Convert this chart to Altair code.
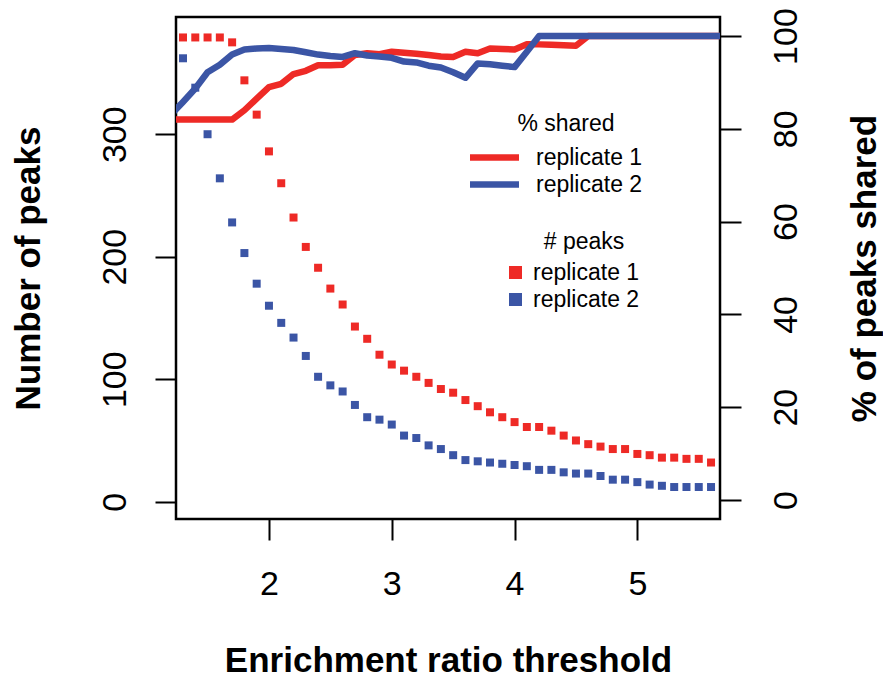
import altair as alt
import pandas as pd

# ---- data ----
thresholds = [1.3, 1.4, 1.5, 1.6, 1.7, 1.8, 1.9,
              2.0, 2.1, 2.2, 2.3, 2.4, 2.5, 2.6, 2.7, 2.8, 2.9,
              3.0, 3.1, 3.2, 3.3, 3.4, 3.5, 3.6, 3.7, 3.8, 3.9,
              4.0, 4.1, 4.2, 4.3, 4.4, 4.5, 4.6, 4.7, 4.8, 4.9,
              5.0, 5.1, 5.2, 5.3, 5.4, 5.5, 5.6]

peaks_rep1 = [379, 379, 379, 379, 375, 344, 316,
              286, 260, 232, 208, 191, 174, 161, 143, 133, 120,
              112, 107, 102, 97, 92, 89, 83, 78, 73, 69,
              65, 61, 61, 58, 54, 50, 47, 45, 43, 43,
              39, 38, 36, 36, 35, 35, 32]

peaks_rep2 = [362, 338, 300, 264, 228, 203, 178,
              160, 146, 134, 119, 102, 95, 90, 79, 69, 67,
              63, 54, 52, 46, 43, 38, 34, 33, 32, 31,
              30, 29, 26, 26, 24, 23, 23, 21, 18, 18,
              16, 14, 13, 12, 12, 12, 12]

line_x = [1.2] + thresholds + [5.7]

shared_rep1 = [82,
               82, 82, 82, 82, 82, 84, 86.5,
               89, 89.7, 91.8, 92.5, 93.7, 93.7, 93.8, 95.9, 96.3, 96.1,
               96.6, 96.4, 96.2, 95.9, 95.6, 95.5, 96.6, 96.3, 97.3, 97.2,
               97.1, 98.2, 98.2, 98.1, 98.0, 97.9, 100, 100, 100, 100,
               100, 100, 100, 100, 100, 100, 100,
               100]

shared_rep2 = [83,
               85.8, 88.7, 92.2, 93.8, 96, 97.1, 97.3,
               97.4, 97.2, 97, 96.5, 96, 95.7, 95.5, 96.3, 95.8, 95.6,
               95.3, 94.5, 94.3, 93.6, 93.2, 92.2, 91.0, 94.1, 93.9, 93.6,
               93.3, 96.6, 100, 100, 100, 100, 100, 100, 100, 100,
               100, 100, 100, 100, 100, 100, 100,
               100]

series = ["replicate 1", "replicate 2"]
legend_titles = ["% shared", "# peaks"]
x_ticks = [2, 3, 4, 5]
left_ticks = [0, 100, 200, 300]
right_ticks = [0, 20, 40, 60, 80, 100]

RED = "#EE2A26"
BLUE = "#3B55A5"
FONT = "Liberation Sans"

n = len(thresholds)
peaks_df = pd.DataFrame({
    "x": thresholds + thresholds,
    "peaks": peaks_rep1 + peaks_rep2,
    "rep": [series[0]] * n + [series[1]] * n,
})
m = len(line_x)
shared_df = pd.DataFrame({
    "x": line_x + line_x,
    "shared": shared_rep1 + shared_rep2,
    "rep": [series[0]] * m + [series[1]] * m,
})

xscale = alt.Scale(domain=[1.243, 5.673], nice=False, zero=False)
xaxis = alt.Axis(values=x_ticks, title="Enrichment ratio threshold",
                 labelBaseline="top", labelPadding=27,
                 titleX=272, titleY=152, titleBaseline="alphabetic",
                 titleAlign="center")

points = alt.Chart(peaks_df).mark_square(size=64, opacity=1, strokeWidth=0).encode(
    x=alt.X("x:Q", scale=xscale, axis=xaxis),
    y=alt.Y("peaks:Q",
            scale=alt.Scale(domain=[-14.1, 395.7], nice=False, zero=False),
            axis=alt.Axis(orient="left", values=left_ticks, title="Number of peaks",
                          labelAngle=270, labelAlign="center",
                          labelBaseline="alphabetic", labelPadding=30,
                          titleAngle=270, titleX=-137, titleY=251,
                          titleBaseline="alphabetic", titleAlign="center")),
    fill=alt.Fill("rep:N",
                  scale=alt.Scale(domain=series, range=[RED, BLUE]),
                  legend=alt.Legend(title=None, orient="none",
                                    legendX=328, legendY=244,
                                    symbolType="square", symbolSize=169,
                                    symbolStrokeWidth=0, symbolOpacity=1,
                                    labelOffset=6, rowPadding=3, padding=0)),
)

lines = alt.Chart(shared_df).mark_line(
    strokeWidth=6.5, clip=True, strokeJoin="round", strokeCap="round"
).encode(
    x=alt.X("x:Q", scale=xscale, axis=xaxis),
    y=alt.Y("shared:Q",
            scale=alt.Scale(domain=[-4.1, 104.1], nice=False, zero=False),
            axis=alt.Axis(orient="right", values=right_ticks, title="% of peaks shared",
                          labelAngle=270, labelAlign="center",
                          labelBaseline="top", labelPadding=28,
                          titleAngle=270, titleX=155, titleY=251,
                          titleBaseline="alphabetic", titleAlign="center")),
    stroke=alt.Stroke("rep:N",
                      scale=alt.Scale(domain=series, range=[RED, BLUE]),
                      legend=alt.Legend(title=None, orient="none",
                                        legendX=305, legendY=127,
                                        symbolType="M-2.5,0H2.5", symbolSize=384,
                                        symbolStrokeWidth=6.5,
                                        labelOffset=28, rowPadding=0, padding=0)),
)

titles_df = pd.DataFrame({"t": legend_titles})
title_style = dict(font=FONT, fontSize=23, color="black", align="center", baseline="middle")
title_shared = alt.Chart(titles_df).transform_filter(
    alt.datum.t == legend_titles[0]
).mark_text(**title_style).encode(text="t:N", x=alt.value(390), y=alt.value(107))
title_peaks = alt.Chart(titles_df).transform_filter(
    alt.datum.t == legend_titles[1]
).mark_text(**title_style).encode(text="t:N", x=alt.value(408), y=alt.value(225))

chart = alt.layer(points, lines, title_shared, title_peaks).resolve_scale(
    y="independent", fill="independent", stroke="independent"
).properties(
    width=544, height=502,
    padding={"left": 168, "top": 9, "right": 163, "bottom": 160},
    autosize=alt.AutoSizeParams(type="none"),
    background="white",
).configure_view(
    stroke="black", strokeWidth=2.5
).configure_axis(
    domain=False, grid=False,
    ticks=True, tickColor="black", tickWidth=2, tickSize=21,
    labelFont=FONT, labelFontSize=34, labelColor="black",
    titleFont=FONT, titleFontSize=35, titleFontWeight="bold", titleColor="black",
).configure_legend(
    labelFont=FONT, labelFontSize=23, labelColor="black",
)

chart.save("out.html", embed_options={"renderer": "svg", "actions": False})
